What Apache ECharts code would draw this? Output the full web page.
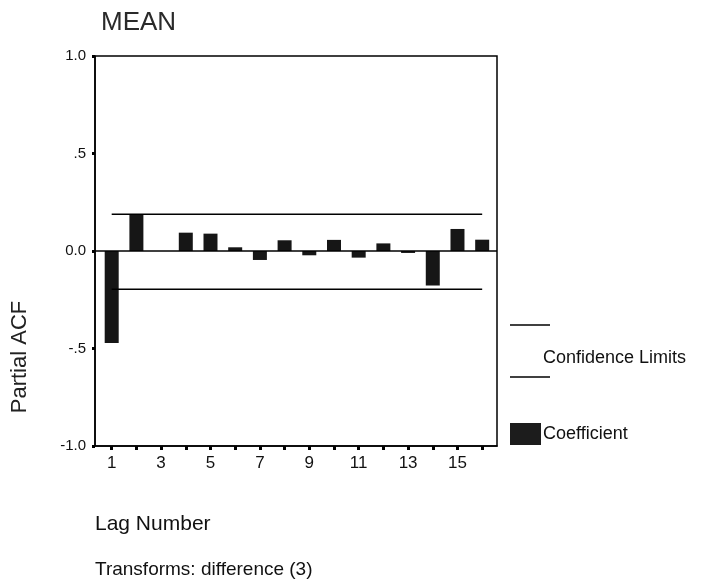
<!DOCTYPE html>
<html>
<head>
<meta charset="utf-8">
<script src="https://cdn.jsdelivr.net/npm/echarts@6/dist/echarts.min.js"></script>
<style>
html,body{margin:0;padding:0;background:#fff;}
#chart{width:704px;height:583px;}
</style>
</head>
<body>
<div id="chart"></div>
<script>
const lags = [1,2,3,4,5,6,7,8,9,10,11,12,13,14,15,16];
const coefficients = [-0.472,0.189,0.0,0.094,0.089,0.019,-0.046,0.055,-0.022,0.057,-0.034,0.039,-0.01,-0.177,0.113,0.058];
const upperLimit = [0.188,0.188];
const lowerLimit = [-0.196,-0.196];
const limitLags = [1,16];
const xTickValues = [1,2,3,4,5,6,7,8,9,10,11,12,13,14,15,16];
const xLabelValues = [1,3,5,7,9,11,13,15];
const yTickValues = [-1,-0.5,0,0.5,1];
const yTickLabels = ['-1.0','-.5','0.0','.5','1.0'];

const FONT = '"Liberation Sans", Arial, sans-serif';
const chart = echarts.init(document.getElementById('chart'));

chart.setOption({
  animation: false,
  backgroundColor: '#fff',
  title: {
    text: 'MEAN', left: 96, top: 5,
    textStyle: {fontFamily: FONT, fontSize: 26, fontWeight: 'normal', color: '#2a2a2a'}
  },
  grid: {left: 95, right: 207, top: 56, bottom: 137, show: true, borderColor: '#000', borderWidth: 1.5, backgroundColor: 'transparent'},
  xAxis: {
    type: 'value', min: 0.324, max: 16.6,
    axisLine: {show: true, onZero: false, lineStyle: {color: '#000', width: 1.5}},
    axisTick: {show: true, customValues: xTickValues, length: 4, inside: false, lineStyle: {color: '#000', width: 3}},
    axisLabel: {show: true, customValues: xLabelValues, margin: 9, fontFamily: FONT, fontSize: 17, color: '#111'},
    splitLine: {show: false}
  },
  yAxis: {
    type: 'value', min: -1, max: 1, interval: 0.5,
    axisLine: {show: true, lineStyle: {color: '#000', width: 1.5}},
    axisTick: {show: true, length: 3, lineStyle: {color: '#000', width: 3}},
    axisLabel: {
      margin: 9, fontFamily: FONT, fontSize: 15, color: '#111',
      formatter: function (v) { const i = yTickValues.indexOf(v); return i >= 0 ? yTickLabels[i] : ''; }
    },
    splitLine: {show: false}
  },
  series: [
    {
      type: 'bar', name: 'Coefficient',
      data: lags.map((l, i) => [l, coefficients[i]]),
      barWidth: 14,
      itemStyle: {color: '#161616'},
      markLine: {
        silent: true, symbol: 'none', label: {show: false},
        lineStyle: {color: '#000', width: 1.5, type: 'solid'},
        data: [{yAxis: 0}]
      }
    },
    {
      type: 'line', name: 'Upper', showSymbol: false,
      data: limitLags.map((l, i) => [l, upperLimit[i]]),
      lineStyle: {color: '#000', width: 1.5}
    },
    {
      type: 'line', name: 'Lower', showSymbol: false,
      data: limitLags.map((l, i) => [l, lowerLimit[i]]),
      lineStyle: {color: '#000', width: 1.5}
    }
  ],
  graphic: [
    {type: 'text', x: 20, y: 357, rotation: Math.PI / 2,
     style: {text: 'Partial ACF', fontFamily: FONT, fontSize: 22, fill: '#222', align: 'center', verticalAlign: 'middle'}},
    {type: 'text', x: 95, y: 524,
     style: {text: 'Lag Number', fontFamily: FONT, fontSize: 21, fill: '#111', align: 'left', verticalAlign: 'middle'}},
    {type: 'text', x: 95, y: 570,
     style: {text: 'Transforms: difference (3)', fontFamily: FONT, fontSize: 19, fill: '#111', align: 'left', verticalAlign: 'middle'}},
    {type: 'line', shape: {x1: 510, y1: 325, x2: 550, y2: 325}, style: {stroke: '#000', lineWidth: 1.5}},
    {type: 'line', shape: {x1: 510, y1: 377, x2: 550, y2: 377}, style: {stroke: '#000', lineWidth: 1.5}},
    {type: 'text', x: 543, y: 358,
     style: {text: 'Confidence Limits', fontFamily: FONT, fontSize: 18, fill: '#111', align: 'left', verticalAlign: 'middle'}},
    {type: 'rect', shape: {x: 510, y: 423, width: 31, height: 22}, style: {fill: '#1c1c1c'}},
    {type: 'text', x: 543, y: 434,
     style: {text: 'Coefficient', fontFamily: FONT, fontSize: 18, fill: '#111', align: 'left', verticalAlign: 'middle'}}
  ]
});
</script>
</body>
</html>
